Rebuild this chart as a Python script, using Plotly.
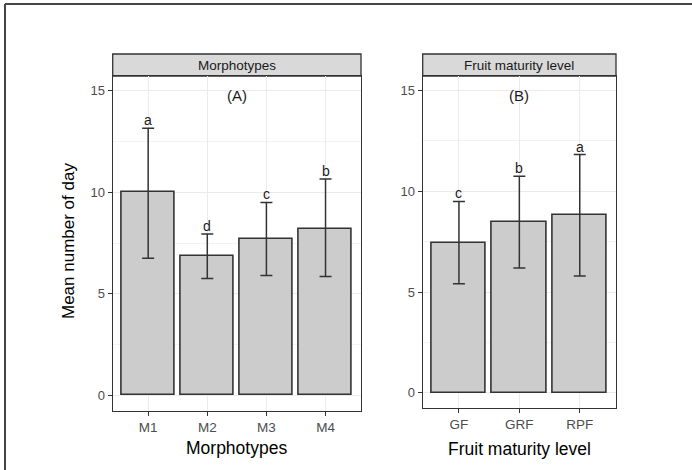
import plotly.graph_objects as go

# ---- data ----
morph_cats = ["M1", "M2", "M3", "M4"]
morph_mean = [10.0, 6.85, 7.7, 8.2]
morph_upper = [13.15, 7.95, 9.5, 10.65]
morph_lower = [6.75, 5.75, 5.9, 5.85]
morph_letters = ["a", "d", "c", "b"]

fruit_cats = ["GF", "GRF", "RPF"]
fruit_mean = [7.45, 8.48, 8.84]
fruit_upper = [9.5, 10.75, 11.82]
fruit_lower = [5.42, 6.2, 5.8]
fruit_letters = ["c", "b", "a"]

y_ticks = [0, 5, 10, 15]

W, H = 692, 470
FONT = "Liberation Sans, Arial, sans-serif"
DARK = "#333333"

def px_x(p):
    return p / W

def px_y(p):
    return 1 - p / H

A_dom = [px_x(112.7), px_x(361)]
B_dom = [px_x(422.7), px_x(616)]
A_ydom = [px_y(410.7), px_y(76)]
B_ydom = [px_y(408), px_y(76)]
strip_top = px_y(54)

fig = go.Figure()

def add_panel(cats, mean, upper, lower, xa, ya):
    xs = list(range(1, len(cats) + 1))
    plus = [u - m for u, m in zip(upper, mean)]
    minus = [m - l for m, l in zip(mean, lower)]
    fig.add_trace(go.Bar(
        x=xs, y=mean, width=0.9,
        marker=dict(color="#cccccc", line=dict(color=DARK, width=1.6)),
        error_y=dict(type="data", symmetric=False, array=plus, arrayminus=minus,
                     color=DARK, thickness=1.5, width=6),
        xaxis=xa, yaxis=ya, showlegend=False, hoverinfo="skip",
    ))

add_panel(morph_cats, morph_mean, morph_upper, morph_lower, "x", "y")
add_panel(fruit_cats, fruit_mean, fruit_upper, fruit_lower, "x2", "y2")

yrange = [-0.75, 15.72]
common_y = dict(
    range=yrange, tickvals=y_ticks, ticktext=[str(v) for v in y_ticks],
    ticks="outside", ticklen=4, tickcolor=DARK, tickwidth=1,
    tickfont=dict(family=FONT, size=13, color="#4d4d4d"),
    showgrid=True, gridcolor="#ebebeb", gridwidth=1,
    minor=dict(dtick=2.5, tick0=0, showgrid=True, gridcolor="#f3f3f3", gridwidth=0.6, ticks=""),
    zeroline=False, showline=True, linecolor=DARK, linewidth=1.3, mirror=True,
    fixedrange=True,
)
common_x = dict(
    ticks="outside", ticklen=4, tickcolor=DARK, tickwidth=1,
    tickfont=dict(family=FONT, size=13.5, color="#4d4d4d"),
    showgrid=True, gridcolor="#ebebeb", gridwidth=1,
    zeroline=False, showline=True, linecolor=DARK, linewidth=1.3, mirror=True,
    fixedrange=True,
)

fig.update_layout(
    width=W, height=H, margin=dict(l=0, r=0, t=0, b=0),
    paper_bgcolor="white", plot_bgcolor="white",
    bargap=0,
    xaxis=dict(domain=A_dom, range=[0.4, 4.6], tickvals=[1, 2, 3, 4], ticktext=morph_cats,
               anchor="y", **common_x),
    yaxis=dict(domain=A_ydom, anchor="x", **common_y),
    xaxis2=dict(domain=B_dom, range=[0.4, 3.6], tickvals=[1, 2, 3], ticktext=fruit_cats,
                anchor="y2", **common_x),
    yaxis2=dict(domain=B_ydom, anchor="x2", **common_y),
)

ann = []
# significance letters
for i, (u, t) in enumerate(zip(morph_upper, morph_letters)):
    ann.append(dict(x=i + 1, y=u, xref="x", yref="y", text=t, showarrow=False,
                    xanchor="center", yanchor="bottom", yshift=-2,
                    font=dict(family=FONT, size=14, color="#1a1a1a")))
for i, (u, t) in enumerate(zip(fruit_upper, fruit_letters)):
    ann.append(dict(x=i + 1, y=u, xref="x2", yref="y2", text=t, showarrow=False,
                    xanchor="center", yanchor="bottom", yshift=-2,
                    font=dict(family=FONT, size=14, color="#1a1a1a")))
# panel labels
ann.append(dict(x=2.5, y=14.75, xref="x", yref="y", text="(A)", showarrow=False,
                xanchor="center", yanchor="middle",
                font=dict(family=FONT, size=15, color="#1a1a1a")))
ann.append(dict(x=2.0, y=14.75, xref="x2", yref="y2", text="(B)", showarrow=False,
                xanchor="center", yanchor="middle",
                font=dict(family=FONT, size=15, color="#1a1a1a")))
# strip texts
ann.append(dict(x=(A_dom[0] + A_dom[1]) / 2, y=(A_ydom[1] + strip_top) / 2, xref="paper", yref="paper",
                text="Morphotypes", showarrow=False, xanchor="center", yanchor="middle",
                font=dict(family=FONT, size=13.5, color="#1a1a1a")))
ann.append(dict(x=(B_dom[0] + B_dom[1]) / 2, y=(B_ydom[1] + strip_top) / 2, xref="paper", yref="paper",
                text="Fruit maturity level", showarrow=False, xanchor="center", yanchor="middle",
                font=dict(family=FONT, size=13.5, color="#1a1a1a")))
# axis titles
ann.append(dict(x=px_x(68), y=px_y(241), xref="paper", yref="paper", text="Mean number of day",
                textangle=-90, showarrow=False, xanchor="center", yanchor="middle",
                font=dict(family=FONT, size=17, color="black")))
ann.append(dict(x=(A_dom[0] + A_dom[1]) / 2, y=px_y(448), xref="paper", yref="paper",
                text="Morphotypes", showarrow=False, xanchor="center", yanchor="middle",
                font=dict(family=FONT, size=17.5, color="black")))
ann.append(dict(x=(B_dom[0] + B_dom[1]) / 2, y=px_y(449), xref="paper", yref="paper",
                text="Fruit maturity level", showarrow=False, xanchor="center", yanchor="middle",
                font=dict(family=FONT, size=17.5, color="black")))
fig.update_layout(annotations=ann)

shapes = []
for dom, ydom in ((A_dom, A_ydom), (B_dom, B_ydom)):
    shapes.append(dict(type="rect", xref="paper", yref="paper", x0=dom[0], x1=dom[1],
                       y0=ydom[1], y1=strip_top, fillcolor="#d9d9d9",
                       line=dict(color=DARK, width=1.3), layer="below"))
# outer frame (top and left edges)
shapes.append(dict(type="line", xref="paper", yref="paper", x0=px_x(5), x1=1, y0=px_y(4), y1=px_y(4),
                   line=dict(color="#444444", width=2)))
shapes.append(dict(type="line", xref="paper", yref="paper", x0=px_x(5), x1=px_x(5), y0=0, y1=px_y(4),
                   line=dict(color="#444444", width=2)))
fig.update_layout(shapes=shapes)

fig.write_html("out.html")
